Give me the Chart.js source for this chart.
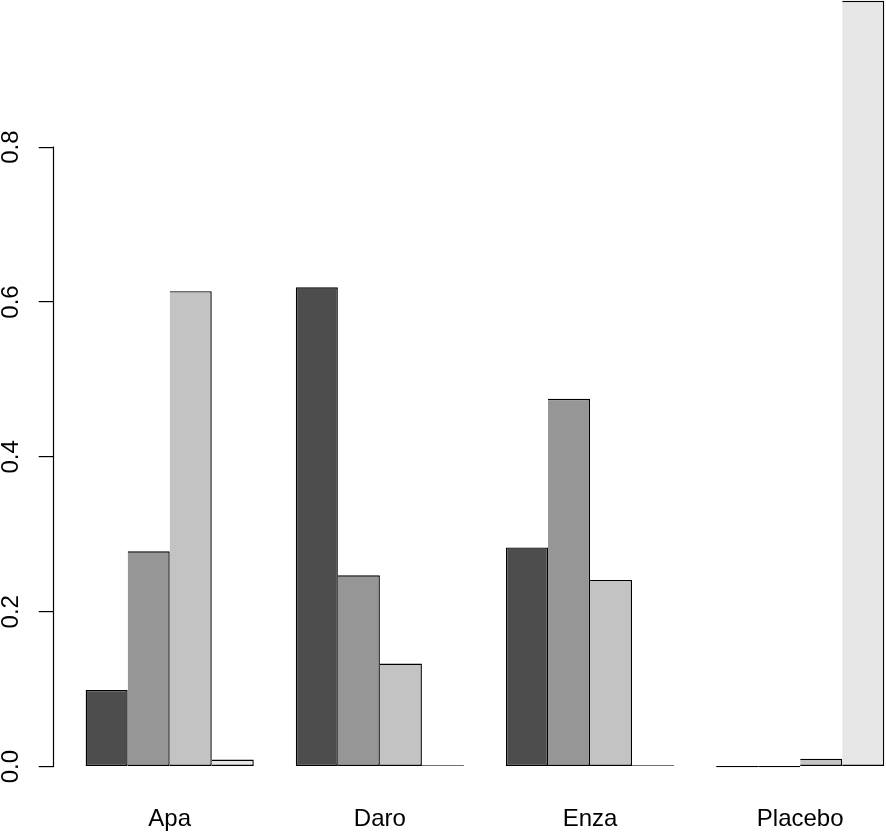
<!DOCTYPE html>
<html>
<head>
<meta charset="utf-8">
<script src="https://cdn.jsdelivr.net/npm/chart.js@4/dist/chart.umd.min.js"></script>
<style>
  html, body { margin: 0; padding: 0; background: #ffffff; overflow: hidden; }
  body { width: 886px; height: 834px; }
  canvas { display: block; }
</style>
</head>
<body>
<canvas id="grafico" width="920" height="834"></canvas>
<script>
// grupos (eixo x) e proporcao de cada nivel dentro do grupo
const categorias = ['Apa', 'Daro', 'Enza', 'Placebo'];
const nivel1 = [0.099, 0.619, 0.283, 0.000];
const nivel2 = [0.278, 0.247, 0.475, 0.000];
const nivel3 = [0.614, 0.133, 0.241, 0.010];
const nivel4 = [0.009, 0.001, 0.001, 0.989];
const ticksY = [0.0, 0.2, 0.4, 0.6, 0.8];

// centro de cada grupo no eixo do barplot (4 barras + 1 espaco por grupo)
const centrosGrupo = [3, 8, 13, 18];

const series = [nivel1, nivel2, nivel3, nivel4];
const cores = ['#4D4D4D', '#969696', '#C3C3C3', '#E6E6E6'];

const fonte = { family: '"Liberation Sans", Arial, Helvetica, sans-serif', size: 24 };

// linha do eixo y so entre o primeiro e o ultimo tick, como no R
const eixoYLinha = {
    id: 'eixoYLinha',
    afterDraw(chart) {
        const y = chart.scales.y;
        const ctx = chart.ctx;
        const x = Math.round(chart.chartArea.left) - 0.5;
        ctx.save();
        ctx.strokeStyle = '#000000';
        ctx.lineWidth = 1.2;
        ctx.beginPath();
        ctx.moveTo(x, y.getPixelForValue(ticksY[0]) + 0.5);
        ctx.lineTo(x, y.getPixelForValue(ticksY[ticksY.length - 1]) - 0.5);
        ctx.stroke();
        ctx.restore();
    }
};

const datasets = series.map((valores, indice) => ({
    label: 'Nível ' + (indice + 1),
    data: valores.map((v, i) => ({ x: centrosGrupo[i], y: v })),
    backgroundColor: cores[indice],
    borderColor: '#000000',
    borderWidth: 1.4,
    borderSkipped: indice === 0 ? false : 'left',
    minBarLength: 1.4,
    categoryPercentage: 0.8,
    barPercentage: 1.0
}));

new Chart(document.getElementById('grafico'), {
    type: 'bar',
    data: { datasets },
    plugins: [eixoYLinha],
    options: {
        responsive: false,
        animation: false,
        layout: { padding: { left: 0, right: 3.8, top: 0, bottom: 0 } },
        plugins: {
            legend: { display: false },
            tooltip: { enabled: false }
        },
        scales: {
            x: {
                type: 'linear',
                offset: false,
                min: 0.24,
                max: 20.76,
                grid: { display: false, drawTicks: false, offset: false },
                border: { display: false },
                ticks: {
                    color: '#000000',
                    font: fonte,
                    padding: 0,
                    callback: (valor) => {
                        const i = centrosGrupo.indexOf(valor);
                        return i >= 0 ? categorias[i] : '';
                    }
                },
                afterBuildTicks: (escala) => {
                    escala.ticks = centrosGrupo.map(v => ({ value: v }));
                },
                afterFit: (escala) => {
                    escala.height = 28.7;
                    escala.paddingLeft = 0;
                    escala.paddingRight = 0;
                }
            },
            y: {
                min: -0.05,
                max: 0.99,
                grid: {
                    drawOnChartArea: false,
                    drawTicks: true,
                    tickLength: 15,
                    color: '#000000',
                    lineWidth: 1.2
                },
                border: { display: false },
                ticks: {
                    color: '#000000',
                    font: fonte,
                    minRotation: 90,
                    maxRotation: 90,
                    crossAlign: 'center',
                    padding: 11,
                    callback: (valor) => Number(valor).toFixed(1)
                },
                afterBuildTicks: (escala) => {
                    escala.ticks = ticksY.map(v => ({ value: v }));
                },
                afterFit: (escala) => {
                    escala.width = 53.7;
                    escala.paddingTop = 0;
                    escala.paddingBottom = 0;
                }
            }
        }
    }
});
</script>
</body>
</html>
